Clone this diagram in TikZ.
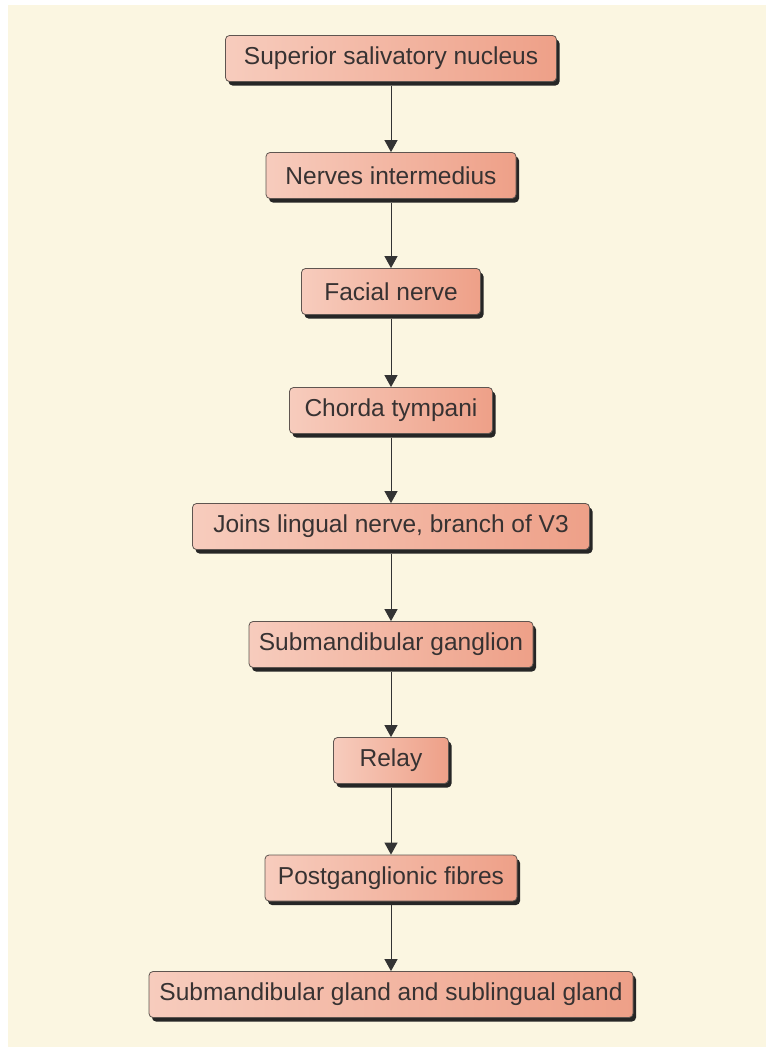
\documentclass[tikz,border=0pt]{standalone}
\usepackage{fontspec}
\setmainfont{Liberation Sans}
\usetikzlibrary{shadows,arrows.meta}
\definecolor{bgcream}{RGB}{251,246,225}
\definecolor{boxleft}{RGB}{247,204,189}
\definecolor{boxright}{RGB}{238,160,136}
\definecolor{boxedge}{RGB}{95,85,80}
\definecolor{txt}{RGB}{55,50,50}
\begin{document}
\begin{tikzpicture}[x=1pt,y=-1pt,
  box/.style={draw=boxedge, line width=0.8pt, rounded corners=4pt,
    left color=boxleft, right color=boxright, minimum height=46pt,
    inner sep=0pt, text=txt, font=\fontsize{24.5}{29}\selectfont,
    drop shadow={shadow xshift=3pt, shadow yshift=-4pt, fill=black!85, opacity=1}},
  link/.style={draw=black!80, line width=1pt, -{Triangle[length=12pt,width=13pt]}}]
\useasboundingbox (0,0) rectangle (766,1047);
\fill[white] (0,0) rectangle (766,1047);
\fill[bgcream] (8,5) rectangle (766,1047);
\node[box, minimum width=331pt] (n1) at (391,58.5) {Superior salivatory nucleus};
\node[box, minimum width=250pt] (n2) at (391,175.5) {Nerves intermedius};
\node[box, minimum width=179pt] (n3) at (391,291.5) {Facial nerve};
\node[box, minimum width=203pt] (n4) at (391,410.5) {Chorda tympani};
\node[box, minimum width=397pt] (n5) at (391,526.5) {Joins lingual nerve, branch of V3};
\node[box, minimum width=284pt] (n6) at (391,644.5) {Submandibular ganglion};
\node[box, minimum width=115pt] (n7) at (391,760.5) {Relay};
\node[box, minimum width=252pt] (n8) at (391,878) {Postganglionic fibres};
\node[box, minimum width=484pt] (n9) at (391,994.5) {Submandibular gland and sublingual gland};
\foreach \a/\b in {n1/n2,n2/n3,n3/n4,n4/n5,n5/n6,n6/n7,n7/n8,n8/n9}
  \draw[link] ([yshift=-4pt]\a.south) -- (\b.north);
\end{tikzpicture}
\end{document}
